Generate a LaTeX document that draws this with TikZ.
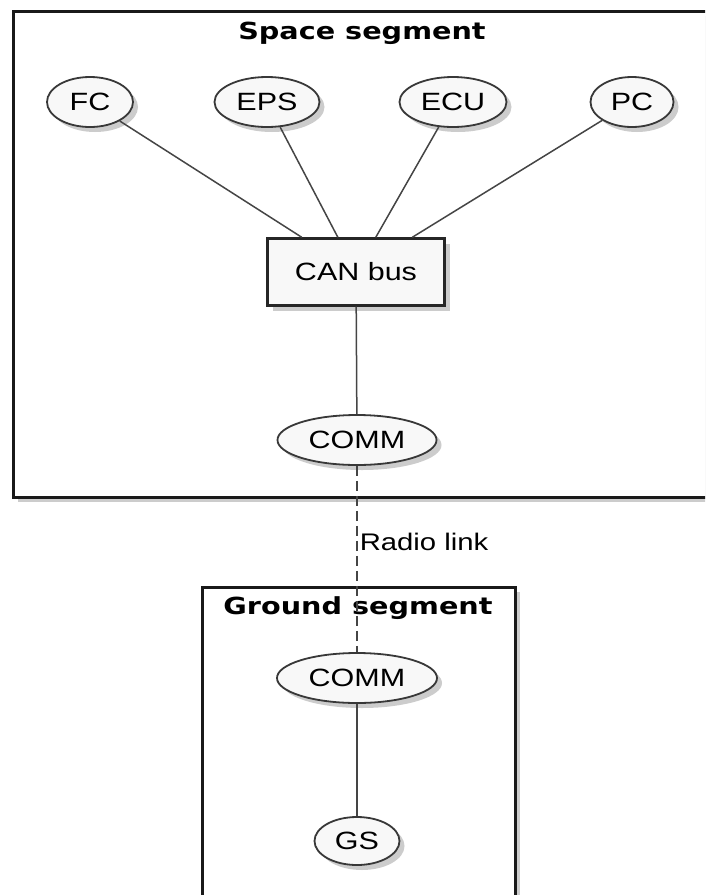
\documentclass[tikz,border=0pt]{standalone}
\usepackage{fontspec}
\setmainfont{Liberation Sans}[FakeStretch=1.22]
\newfontfamily\fuenteTitulo{DejaVu Sans}[FakeStretch=1.22]
\usepackage{tikz}
\usetikzlibrary{shapes.geometric,shadows}
\definecolor{grisBorde}{HTML}{383838}
\definecolor{grisRelleno}{HTML}{F8F8F8}
\definecolor{grisLinea}{HTML}{454545}

\begin{document}
\begin{tikzpicture}[x=1pt, y=-1pt,
    sombra/.style={drop shadow={shadow xshift=5pt, shadow yshift=-5pt, opacity=.4}},
    caso/.style={ellipse, draw=grisBorde, line width=1.8pt, fill=grisRelleno, sombra,
                 minimum height=50pt, inner sep=0pt, font=\fontsize{25}{28}\selectfont},
    bloque/.style={rectangle, draw=black!85, line width=2.4pt, fill=grisRelleno, sombra,
                   minimum width=177pt, minimum height=67pt, font=\fontsize{25}{28}\selectfont},
    marco/.style={draw=black!90, line width=3pt, fill=white, sombra},
    titulo/.style={font=\fuenteTitulo\bfseries\fontsize{23.5}{26}\selectfont},
    linea/.style={draw=grisLinea, line width=1.5pt},
    radio/.style={linea, dash pattern=on 10pt off 5pt}
  ]
  \clip (0,0) rectangle (705,895);

  % marcos
  \draw[marco] (13,11) rectangle (720,497);
  \node[titulo] (tituloespacio) at (362,33) {Space segment};
  \draw[marco] (202,587) rectangle (515,910);
  \node[titulo] (titulotierra) at (358,608) {Ground segment};

  % segmento espacial
  \node[caso, minimum width=86pt] (fc) at (90,102) {FC};
  \node[caso, minimum width=105pt] (eps) at (267,102) {EPS};
  \node[caso, minimum width=107pt] (ecu) at (453,102) {ECU};
  \node[caso, minimum width=83pt] (pc) at (632,102) {PC};
  \node[bloque] (canbus) at (356,272) {CAN bus};
  \node[caso, minimum width=159pt] (commespacio) at (357,440) {COMM};

  % segmento terrestre
  \node[caso, minimum width=160pt] (commtierra) at (357,678) {COMM};
  \node[caso, minimum width=85pt, minimum height=48pt] (gs) at (357,841) {GS};

  \draw[linea] (fc) -- (canbus);
  \draw[linea] (eps) -- (canbus);
  \draw[linea] (ecu) -- (canbus);
  \draw[linea] (pc) -- (canbus);
  \draw[linea] (canbus) -- (commespacio);
  \draw[radio] (commespacio) -- node[pos=.41, right, inner sep=2pt, font=\fontsize{24}{27}\selectfont] (enlace) {Radio link} (commtierra);
  \draw[linea] (commtierra) -- (gs);
\end{tikzpicture}
\end{document}
